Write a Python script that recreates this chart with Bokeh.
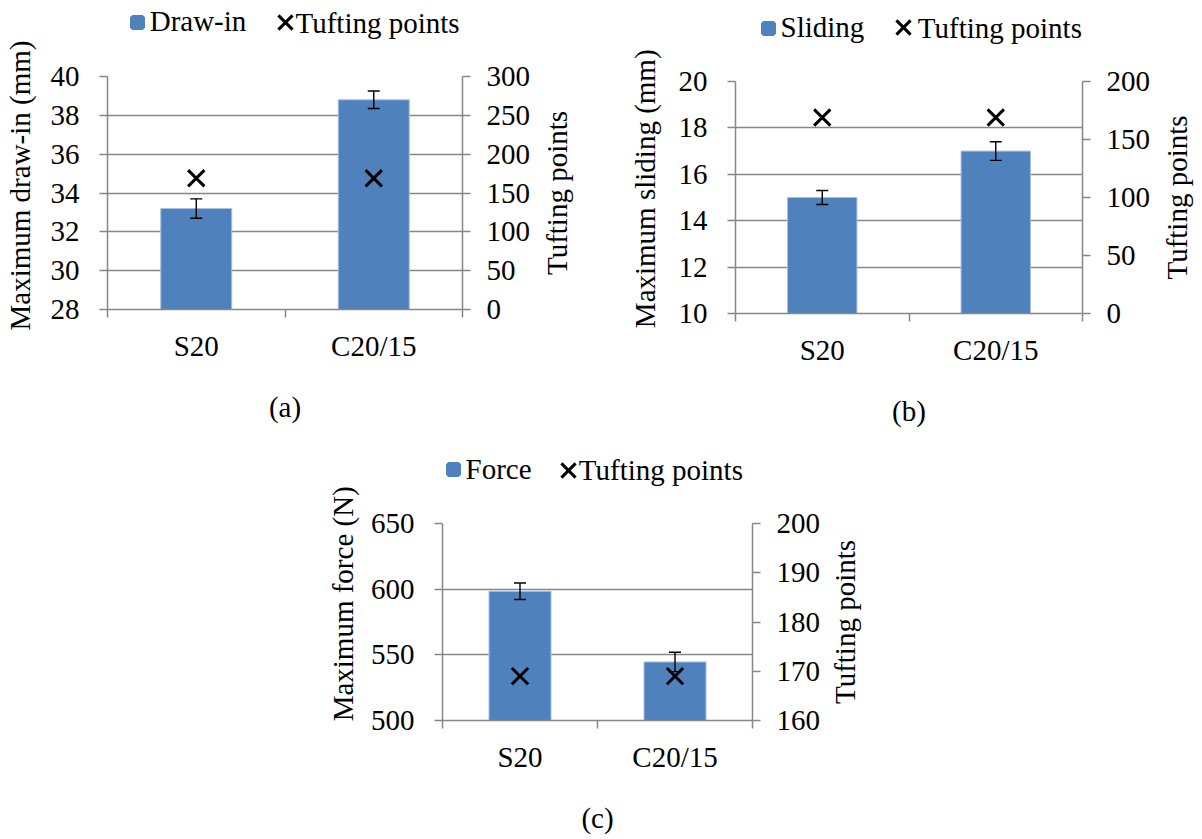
import math

from bokeh.embed import file_html
from bokeh.layouts import column, row
from bokeh.models import (ColumnDataSource, FixedTicker, Grid, Label, Legend,
                          LegendItem, LinearAxis, Range1d,
                          SingleIntervalTicker, Spacer, TeeHead, Whisker)
from bokeh.plotting import figure
from bokeh.resources import INLINE

# ---- data ----
categories = ["S20", "C20/15"]

drawin_mm = [33.2, 38.8]
drawin_err = [0.5, 0.45]

sliding_mm = [15.0, 17.0]
sliding_err = [0.3, 0.4]

force_n = [598.4, 544.6]
force_err = [6.3, 7.4]

tufting_points = [169, 169]

# ---- style ----
FONT = "Liberation Serif"
FS = "29px"
BAR = "#4F81BD"
BAR_EDGE = "#A9C1E0"
GRAY = "#878787"


def bare_figure(width, height, x_range, y_range, **borders):
    return figure(width=width, height=height, output_backend="svg",
                  toolbar_location=None, x_axis_type=None, y_axis_type=None,
                  x_range=x_range, y_range=y_range, outline_line_color=None,
                  background_fill_color="white", border_fill_color="white",
                  **borders)


def style_axis(ax, label_standoff, title_standoff):
    ax.axis_line_color = GRAY
    ax.axis_line_width = 1.5
    ax.major_tick_line_color = GRAY
    ax.major_tick_line_width = 1.5
    ax.major_tick_out = 8
    ax.major_tick_in = 0
    ax.minor_tick_line_color = None
    ax.major_label_text_font = FONT
    ax.major_label_text_font_size = FS
    ax.major_label_text_color = "black"
    ax.major_label_standoff = label_standoff
    ax.axis_label_text_font = FONT
    ax.axis_label_text_font_size = FS
    ax.axis_label_text_font_style = "normal"
    ax.axis_label_text_color = "black"
    ax.axis_label_standoff = title_standoff


def make_chart(values, errors, y_lim, y_step, t_lim, t_step, caption,
               width, height, borders):
    left, right, top, bottom = borders
    p = bare_figure(width, height, Range1d(0, len(categories)), Range1d(*y_lim),
                    min_border_left=left, min_border_right=right,
                    min_border_top=top, min_border_bottom=bottom)
    p.extra_y_ranges = {"tuft": Range1d(*t_lim)}

    xs = [i + 0.5 for i in range(len(categories))]
    src = ColumnDataSource(dict(
        x=xs,
        v=values,
        lo=[v - e for v, e in zip(values, errors)],
        hi=[v + e for v, e in zip(values, errors)],
        t=tufting_points,
    ))

    p.vbar(x="x", top="v", bottom=y_lim[0], width=0.4, source=src,
           fill_color=BAR, line_color=BAR_EDGE, line_width=1)

    head = dict(size=12, line_color="black", line_width=1.4)
    p.add_layout(Whisker(source=src, base="x", upper="hi", lower="lo",
                         level="annotation", line_color="black", line_width=1.4,
                         upper_head=TeeHead(**head), lower_head=TeeHead(**head)))

    p.scatter(x="x", y="t", source=src, y_range_name="tuft",
              marker="x", size=23, line_color="black", line_width=3,
              level="overlay")

    # category axis: ticks on the category boundaries, names at bar centres
    xa = LinearAxis(ticker=FixedTicker(ticks=xs,
                                       minor_ticks=list(range(len(categories) + 1))),
                    axis_label=caption)
    style_axis(xa, 12, 26)
    xa.major_label_overrides = {x: c for x, c in zip(xs, categories)}
    xa.major_tick_line_color = None
    xa.major_tick_out = 0
    xa.minor_tick_line_color = GRAY
    xa.minor_tick_line_width = 1.5
    xa.minor_tick_out = 8
    xa.minor_tick_in = 0
    p.add_layout(xa, "below")

    # primary value axis with horizontal gridlines
    left_ticker = SingleIntervalTicker(interval=y_step, num_minor_ticks=0)
    ya = LinearAxis(ticker=left_ticker)
    style_axis(ya, 20, 0)
    p.add_layout(ya, "left")
    p.add_layout(Grid(dimension=1, ticker=left_ticker,
                      grid_line_color=GRAY, grid_line_width=1.5))

    # secondary axis for tufting points
    ra = LinearAxis(y_range_name="tuft",
                    ticker=SingleIntervalTicker(interval=t_step, num_minor_ticks=0))
    style_axis(ra, 16, 0)
    p.add_layout(ra, "right")
    return p


def vertical_title(text, x, y):
    return Label(x=x, y=y, x_units="screen", y_units="screen", text=text,
                 angle=math.pi / 2, text_align="center", text_baseline="middle",
                 text_font=FONT, text_font_size=FS, text_color="black")


def make_left_title(width, height, text, x_px, y_px):
    p = bare_figure(width, height, Range1d(0, 1), Range1d(0, 1), min_border=0)
    p.add_layout(vertical_title(text, x_px, y_px))
    return p


def make_right_title(width, height, t_lim, top, bottom, x_px):
    # shares the chart's vertical scale so the title centres on the plot area
    p = bare_figure(width, height, Range1d(0, 1), Range1d(*t_lim),
                    min_border_left=0, min_border_right=0,
                    min_border_top=top, min_border_bottom=bottom)
    p.add_layout(Label(x=x_px, x_units="screen", y=(t_lim[0] + t_lim[1]) / 2,
                       text="Tufting points", angle=math.pi / 2,
                       text_align="center", text_baseline="middle",
                       text_font=FONT, text_font_size=FS, text_color="black"))
    return p


def make_legend(width, height, series_name, bar_at, cross_at, text_at):
    p = bare_figure(width, height, Range1d(0, 1), Range1d(0, 1), min_border=0)
    # legend markers are sized from the glyph box; the swatch's stroke in the
    # fill colour widens the small square to the wanted size
    swatch = p.scatter(x=[math.nan], y=[math.nan], marker="square",
                       fill_color=BAR, line_color=BAR, line_width=4.6)
    cross = p.scatter(x=[math.nan], y=[math.nan], marker="x",
                      line_color="black", line_width=3)
    common = dict(orientation="horizontal", padding=0, margin=0, spacing=0,
                  label_standoff=0, border_line_color=None,
                  background_fill_alpha=0,
                  label_text_font=FONT, label_text_font_size=FS,
                  label_text_color="black")
    p.add_layout(Legend(items=[LegendItem(label=series_name, renderers=[swatch])],
                        location=bar_at, glyph_width=26, glyph_height=38, **common))
    p.add_layout(Legend(items=[LegendItem(label="", renderers=[cross])],
                        location=cross_at, glyph_width=50, glyph_height=50, **common))
    p.add_layout(Label(x=text_at[0], y=text_at[1], x_units="screen", y_units="screen",
                       text="Tufting points", text_align="left",
                       text_baseline="middle", text_font=FONT,
                       text_font_size=FS, text_color="black"))
    return p


# (a) draw-in
left_a = make_left_title(38, 430, "Maximum draw-in (mm)", 19.5, 245)
leg_a = make_legend(562, 44, "Draw-in", (85.7, 3.5), (221.7, -3), (257, 21.5))
chart_a = make_chart(drawin_mm, drawin_err, (28, 40), 2, (0, 300), 50, "(a)",
                     498, 386, (69, 74, 32, 121))
right_a = make_right_title(64, 386, (0, 300), 32, 121, 20)

# (b) sliding
left_b = make_left_title(66, 430, "Maximum sliding (mm)", 44.5, 241.7)
leg_b = make_legend(536, 46, "Sliding", (88.5, -0.8), (211.5, -5.7), (251.3, 18.2))
chart_b = make_chart(sliding_mm, sliding_err, (10, 20), 2, (0, 200), 50, "(b)",
                     490, 384, (69, 74, 35, 117))
right_b = make_right_title(46, 384, (0, 200), 35, 117, 20)

# (c) force
left_c = make_left_title(62, 409, "Maximum force (N)", 42.8, 235.7)
leg_c = make_legend(538, 60, "Force", (77.5, 1.8), (181, -4.7), (216.3, 20.5))
chart_c = make_chart(force_n, force_err, (500, 650), 50, (160, 200), 10, "(c)",
                     464, 349, (80, 74, 33, 119))
right_c = make_right_title(74, 349, (160, 200), 33, 119, 18)

panel_a = row(left_a, column(leg_a, row(chart_a, right_a)))
panel_b = row(left_b, column(leg_b, row(chart_b, right_b)))
panel_c = row(left_c, column(leg_c, row(chart_c, right_c)))
layout = column(row(panel_a, panel_b), row(Spacer(width=300, height=409), panel_c))

open("out.html", "w").write(file_html(layout, INLINE))
